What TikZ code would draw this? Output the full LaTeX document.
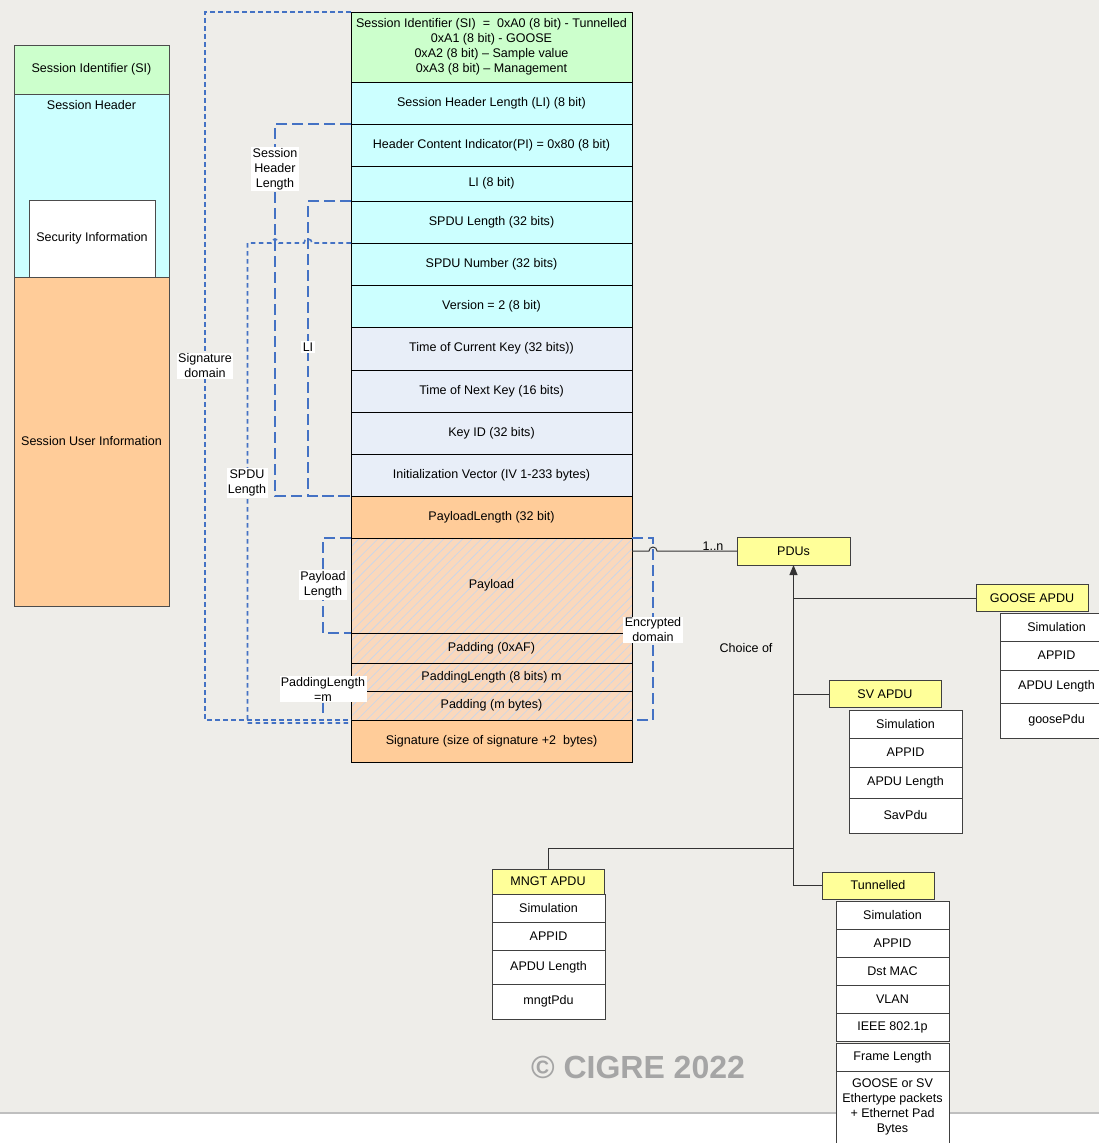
\documentclass[tikz,border=0pt]{standalone}
\usepackage{fontspec}
\setmainfont{Liberation Sans}
\usetikzlibrary{positioning, arrows.meta, patterns.meta}

\definecolor{canvas}{RGB}{238,237,233}
\definecolor{sigreen}{RGB}{204,255,204}
\definecolor{hdrcyan}{RGB}{204,255,255}
\definecolor{keygrey}{RGB}{232,238,248}
\definecolor{userorange}{RGB}{255,204,153}
\definecolor{hatchbg}{RGB}{250,216,188}
\definecolor{hatchline}{RGB}{196,214,238}
\definecolor{apduyellow}{RGB}{255,255,153}
\definecolor{domainblue}{RGB}{68,114,196}
\definecolor{copygrey}{RGB}{165,165,165}

% one drawing unit = one pixel of the layout
\newcommand{\pxu}{0.75pt}

\tikzset{
  cell/.style={
    rectangle, draw=black, line width=0.75pt,
    outer sep=0pt, inner sep=1pt, align=center,
    minimum width=281*\pxu
  },
  hatched/.style={
    preaction={fill=hatchbg},
    pattern={Lines[angle=45, distance=5pt, line width=0.45pt]},
    pattern color=hatchline
  },
  stackcell/.style={
    rectangle, draw=black!70, line width=0.75pt,
    outer sep=0pt, inner sep=1pt, align=center,
    minimum width=155*\pxu
  },
  apdu/.style={
    rectangle, draw=black!75, fill=apduyellow, line width=0.75pt,
    outer sep=0pt, minimum width=112*\pxu, minimum height=27*\pxu
  },
  field/.style={
    rectangle, draw=black!75, fill=white, line width=0.75pt,
    outer sep=0pt, inner sep=1pt, align=center,
    minimum width=113*\pxu
  },
  sigdomain/.style={draw=domainblue, line width=1.2pt, dash pattern=on 3.5pt off 2.5pt},
  lendomain/.style={draw=domainblue, line width=1.1pt, dash pattern=on 8pt off 4pt},
  domlabel/.style={fill=white, inner sep=1pt, align=center},
  link/.style={draw=black!80, line width=0.75pt},
  arrow/.style={link, -{Triangle[length=7.5pt, width=6pt]}}
}

\begin{document}
\begin{tikzpicture}[x=0.75pt, y=-0.75pt,
  every node/.style={font=\fontsize{9.4}{11.25}\selectfont}]

\useasboundingbox (0,0) rectangle (1099,1143);
\clip (0,0) rectangle (1099,1143);
\fill[canvas] (0,0) rectangle (1099,1113);
\fill[white] (0,1113) rectangle (1099,1143);
\draw[black!25, line width=1pt] (0,1113) -- (1099,1113);

% ==============================================================================
% SPDU overview (left)
% ==============================================================================
\node[stackcell, fill=sigreen, minimum height=49*\pxu, anchor=north west] (lsi) at (14,45) {Session Identifier (SI)};
\node[stackcell, fill=hdrcyan, minimum height=183*\pxu, below=0pt of lsi] (lsh) {};
\node[stackcell, fill=userorange, minimum height=329*\pxu, below=0pt of lsh] (lsui) {Session User Information};
\node[stackcell, fill=white, minimum width=126*\pxu, minimum height=77*\pxu, anchor=south] (lsec) at (92,277) {Security Information};
\node (lshtxt) at (91.5,105) {Session Header};

% ==============================================================================
% SPDU fields
% ==============================================================================
\node[cell, fill=sigreen, minimum height=70*\pxu, anchor=north west] (si) at (351,12) {
  Session Identifier (SI)\ \ =\ \ 0xA0 (8 bit) - Tunnelled\\
  0xA1 (8 bit) - GOOSE\\
  0xA2 (8 bit) -- Sample value\\
  0xA3 (8 bit) -- Management
};
\node[cell, fill=hdrcyan, minimum height=42*\pxu, below=0pt of si] (shl) {Session Header Length (LI) (8 bit)};
\node[cell, fill=hdrcyan, minimum height=42*\pxu, below=0pt of shl] (hci) {Header Content Indicator(PI) = 0x80 (8 bit)};
\node[cell, fill=hdrcyan, minimum height=35*\pxu, below=0pt of hci] (li) {LI (8 bit)};
\node[cell, fill=hdrcyan, minimum height=42*\pxu, below=0pt of li] (spdulen) {SPDU Length (32 bits)};
\node[cell, fill=hdrcyan, minimum height=42*\pxu, below=0pt of spdulen] (spdunum) {SPDU Number (32 bits)};
\node[cell, fill=hdrcyan, minimum height=42*\pxu, below=0pt of spdunum] (version) {Version = 2 (8 bit)};
\node[cell, fill=keygrey, minimum height=43*\pxu, below=0pt of version] (curkey) {Time of Current Key (32 bits))};
\node[cell, fill=keygrey, minimum height=42*\pxu, below=0pt of curkey] (nextkey) {Time of Next Key (16 bits)};
\node[cell, fill=keygrey, minimum height=42*\pxu, below=0pt of nextkey] (keyid) {Key ID (32 bits)};
\node[cell, fill=keygrey, minimum height=42*\pxu, below=0pt of keyid] (iv) {Initialization Vector (IV 1-233 bytes)};
\node[cell, fill=userorange, minimum height=42*\pxu, below=0pt of iv] (paylen) {PayloadLength (32 bit)};
\node[cell, hatched, minimum height=95*\pxu, below=0pt of paylen] (payload) {Payload};
\node[cell, hatched, minimum height=30*\pxu, below=0pt of payload] (padaf) {Padding (0xAF)};
\node[cell, hatched, minimum height=28*\pxu, below=0pt of padaf] (padlen) {PaddingLength (8 bits) m};
\node[cell, hatched, minimum height=29*\pxu, below=0pt of padlen] (padm) {Padding (m bytes)};
\node[cell, fill=userorange, minimum height=42*\pxu, below=0pt of padm] (sig) {Signature (size of signature +2\ \ bytes)};

% ==============================================================================
% Length and domain brackets
% ==============================================================================
\draw[sigdomain] (si.north west) -- (205,12) |- (padm.south west);
\draw[sigdomain] (spdunum.north west) -- (312,243)
  arc[start angle=0, end angle=180, radius=3pt] -- (279,243)
  arc[start angle=0, end angle=180, radius=3pt] -- (247.5,243) |- (351,723);
\draw[lendomain] (hci.north west) -| (275,496) -- (iv.south west);
\draw[lendomain] (spdulen.north west) -| (308,496) -- (iv.south west);
\draw[lendomain] (payload.north west) -| (323,633) -- (payload.south west);
\draw[lendomain] (payload.north east) -| (653,720) -- (padm.south east);

\node[domlabel] (siglbl) at (205,366) {Signature\\domain};
\node[domlabel] (shllbl) at (275,169) {Session\\Header\\Length};
\node[domlabel] (spdulbl) at (247,483) {SPDU\\Length};
\node[domlabel] (lilbl) at (308,347) {LI};
\node[domlabel] (paylbl) at (323,585) {Payload\\Length};
\node[domlabel] (enclbl) at (653,630) {Encrypted\\domain};
\node[domlabel] (padlbl) at (323,689) {PaddingLength\\=m};
\draw[lendomain] (padlbl.south) -- (padlbl.south |- padm.south);

% ==============================================================================
% PDUs
% ==============================================================================
\node[apdu, minimum width=113*\pxu, minimum height=28*\pxu] (pdus) at (793.5,551) {PDUs};
\node[apdu] (goose) at (1032,598) {GOOSE APDU};
\node[apdu] (sv) at (885,694) {SV APDU};
\node[apdu, minimum height=25*\pxu] (mngt) at (548,881.5) {MNGT APDU};
\node[apdu] (tunnel) at (878,885.5) {Tunnelled};

\node[field, minimum height=28*\pxu, anchor=north west] (g1) at (1000,613) {Simulation};
\node[field, minimum height=29*\pxu, below=0pt of g1] (g2) {APPID};
\node[field, minimum height=33*\pxu, below=0pt of g2] (g3) {APDU Length};
\node[field, minimum height=35*\pxu, below=0pt of g3] (g4) {goosePdu};

\node[field, minimum height=28*\pxu, anchor=north west] (s1) at (849,710) {Simulation};
\node[field, minimum height=29*\pxu, below=0pt of s1] (s2) {APPID};
\node[field, minimum height=31*\pxu, below=0pt of s2] (s3) {APDU Length};
\node[field, minimum height=35*\pxu, below=0pt of s3] (s4) {SavPdu};

\node[field, minimum height=28*\pxu, anchor=north west] (m1) at (492,894) {Simulation};
\node[field, minimum height=28*\pxu, below=0pt of m1] (m2) {APPID};
\node[field, minimum height=34*\pxu, below=0pt of m2] (m3) {APDU Length};
\node[field, minimum height=35*\pxu, below=0pt of m3] (m4) {mngtPdu};

\node[field, minimum height=28*\pxu, anchor=north west] (t1) at (836,901) {Simulation};
\node[field, minimum height=28*\pxu, below=0pt of t1] (t2) {APPID};
\node[field, minimum height=28*\pxu, below=0pt of t2] (t3) {Dst MAC};
\node[field, minimum height=28*\pxu, below=0pt of t3] (t4) {VLAN};
\node[field, minimum height=28*\pxu, below=0pt of t4] (t5) {IEEE 802.1p};
\node[field, minimum height=28*\pxu, below=2*\pxu of t5] (t6) {Frame Length};
\node[field, minimum height=72*\pxu, below=0pt of t6] (t7) {GOOSE or SV\\Ethertype packets\\+ Ethernet Pad\\Bytes};

% connectors
\coordinate (mngtjoin) at (793.5,848);
\draw[arrow] (tunnel.west) -| (pdus.south);
\draw[link] (goose.west) -- (goose.west -| pdus.south);
\draw[link] (sv.west) -- (sv.west -| pdus.south);
\draw[link] (mngt.north) |- (mngtjoin);
\draw[link] (payload.east |- pdus.west) -- (649,551)
  arc[start angle=180, end angle=0, radius=3pt] -- (pdus.west);

\node (multi) at (713,546) {1..n};
\node (choice) at (746,648) {Choice of};

\node[text=copygrey, font=\fontsize{24}{28}\selectfont\bfseries] (copy) at (638,1067) {\textcopyright\ CIGRE 2022};

\end{tikzpicture}
\end{document}
